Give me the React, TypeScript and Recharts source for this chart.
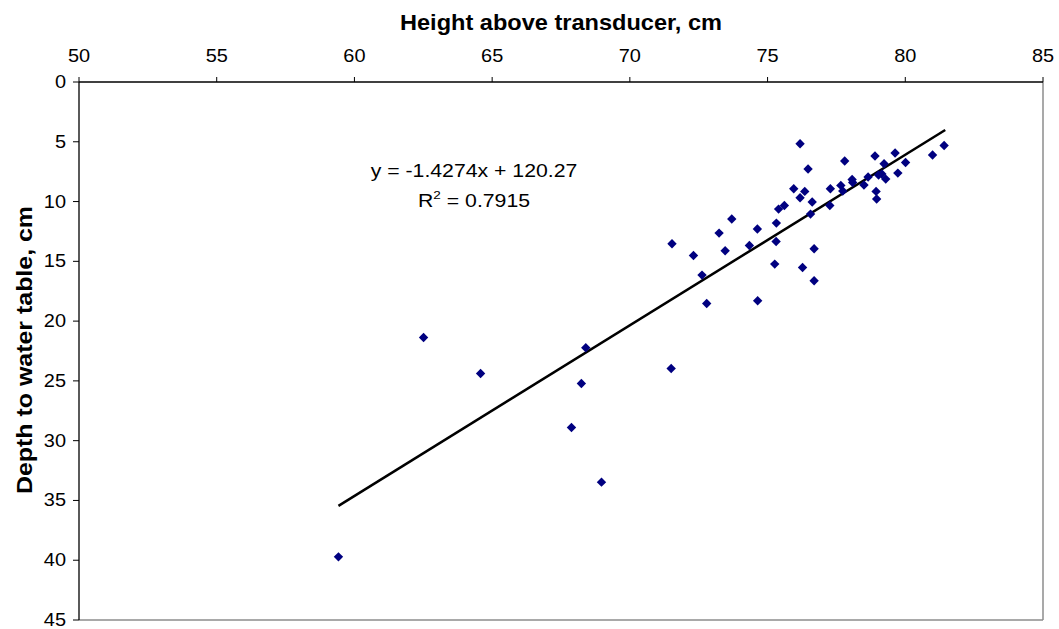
import { ScatterChart, Scatter, XAxis, YAxis, ReferenceLine, Label } from "recharts"

// height above transducer (cm) and depth to water table (cm)
const heightCm = [
  76.18, 81.41, 80.99, 79.63, 78.9, 77.8, 79.23, 80.01, 76.47, 79.73,
  79.03, 79.15, 79.29, 78.65, 78.07, 78.09, 78.5, 77.66, 77.73, 77.28,
  75.95, 76.35, 76.18, 76.62, 78.94, 78.96, 77.26, 75.61, 75.4, 76.56,
  73.7, 75.32, 74.63, 73.24, 71.53, 74.34, 75.31, 73.46, 72.31, 76.69,
  75.26, 76.27, 72.62, 76.69, 72.79, 74.64, 62.51, 64.58, 68.4, 68.24,
  67.88, 68.97, 71.5, 59.42,
]
const depthCm = [
  5.16, 5.31, 6.11, 5.94, 6.19, 6.61, 6.84, 6.73, 7.28, 7.62,
  7.78, 7.7, 8.12, 7.95, 8.15, 8.4, 8.62, 8.65, 9.12, 8.93,
  8.93, 9.15, 9.68, 10.04, 9.15, 9.79, 10.33, 10.33, 10.63, 11.05,
  11.46, 11.8, 12.3, 12.64, 13.53, 13.67, 13.34, 14.12, 14.51, 13.95,
  15.23, 15.51, 16.15, 16.63, 18.53, 18.3, 21.37, 24.38, 22.23, 25.22,
  28.9, 33.47, 23.97, 39.72,
]

// linear trendline end points
const trendX = [59.42, 81.45]
const trendY = [35.45, 4.01]

const xTicks = [50, 55, 60, 65, 70, 75, 80, 85]
const yTicks = [0, 5, 10, 15, 20, 25, 30, 35, 40, 45]

const points = heightCm.map((x, i) => ({ x, y: depthCm[i] }))
const trend = trendX.map((x, i) => ({ x, y: trendY[i] }))

const FONT = "'Liberation Sans', Arial, sans-serif"
// the original picture is stretched sideways a little
const SX = 1.14

function Diamond(props: any) {
  const { cx, cy } = props
  const r = 4.7
  return <polygon points={`${cx},${cy - r} ${cx + r},${cy} ${cx},${cy + r} ${cx - r},${cy}`} fill="#000080" />
}

function XTick(props: any) {
  const { x, y, payload } = props
  return (
    <g transform={`translate(${x},${y})`}>
      <text transform={`scale(${SX},1)`} textAnchor="middle" fontFamily={FONT} fontSize={17.5} fill="#000">
        {payload.value}
      </text>
    </g>
  )
}

function YTick(props: any) {
  const { x, y, payload } = props
  return (
    <g transform={`translate(${x},${y})`}>
      <text transform={`scale(${SX},1)`} y={6} textAnchor="end" fontFamily={FONT} fontSize={17.5} fill="#000">
        {payload.value}
      </text>
    </g>
  )
}

function TopTitle() {
  return (
    <text x={561} y={30} textAnchor="middle" fontFamily={FONT} fontWeight="bold" fontSize={21.5} fill="#000" textLength={322} lengthAdjust="spacingAndGlyphs">
      Height above transducer, cm
    </text>
  )
}

function SideTitle() {
  return (
    <text x={0} y={0} transform="translate(32,350) rotate(-90)" textAnchor="middle" fontFamily={FONT} fontWeight="bold" fontSize={21.5} fill="#000" textLength={288} lengthAdjust="spacingAndGlyphs">
      Depth to water table, cm
    </text>
  )
}

function Equation() {
  return (
    <g fontFamily={FONT} fontSize={18} fill="#000">
      <g transform={`translate(474,177) scale(${SX + 0.04},1)`}>
        <text textAnchor="middle">y = -1.4274x + 120.27</text>
      </g>
      <g transform={`translate(474,207) scale(${SX + 0.04},1)`}>
        <text textAnchor="middle">
          R<tspan fontSize={11.5} dy={-8}>2</tspan>
          <tspan dy={8}> = 0.7915</tspan>
        </text>
      </g>
    </g>
  )
}

export default function App() {
  return (
    <div style={{ position: "absolute", left: 0, top: 0, width: 1059, height: 629, background: "#fff" }}>
      <ScatterChart width={1059} height={629} margin={{ top: 32, right: 16, bottom: 9, left: 19 }} style={{ fontFamily: FONT }}>
        <XAxis
          type="number"
          dataKey="x"
          orientation="top"
          domain={[50, 85]}
          ticks={xTicks}
          height={50}
          tickSize={5}
          tickMargin={15}
          axisLine={{ stroke: "#000", strokeWidth: 1.3 }}
          tickLine={{ stroke: "#000" }}
          tick={XTick}
          allowDataOverflow
        >
          <Label content={TopTitle} />
        </XAxis>
        <YAxis
          type="number"
          dataKey="y"
          reversed
          domain={[0, 45]}
          ticks={yTicks}
          width={60}
          tickSize={6}
          tickMargin={7}
          axisLine={{ stroke: "#000", strokeWidth: 1.3 }}
          tickLine={{ stroke: "#000" }}
          tick={YTick}
          allowDataOverflow
        >
          <Label content={SideTitle} />
        </YAxis>
        <ReferenceLine x={85} stroke="#8c8c8c" strokeWidth={1.5} />
        <ReferenceLine y={45} stroke="#8c8c8c" strokeWidth={1.5} />
        <Scatter data={trend} line={{ stroke: "#000", strokeWidth: 2.5 }} shape={() => <g />} isAnimationActive={false} />
        <Scatter data={points} shape={Diamond} isAnimationActive={false} />
      </ScatterChart>
      <svg width={1059} height={629} style={{ position: "absolute", left: 0, top: 0, pointerEvents: "none" }}>
        <Equation />
      </svg>
    </div>
  )
}
